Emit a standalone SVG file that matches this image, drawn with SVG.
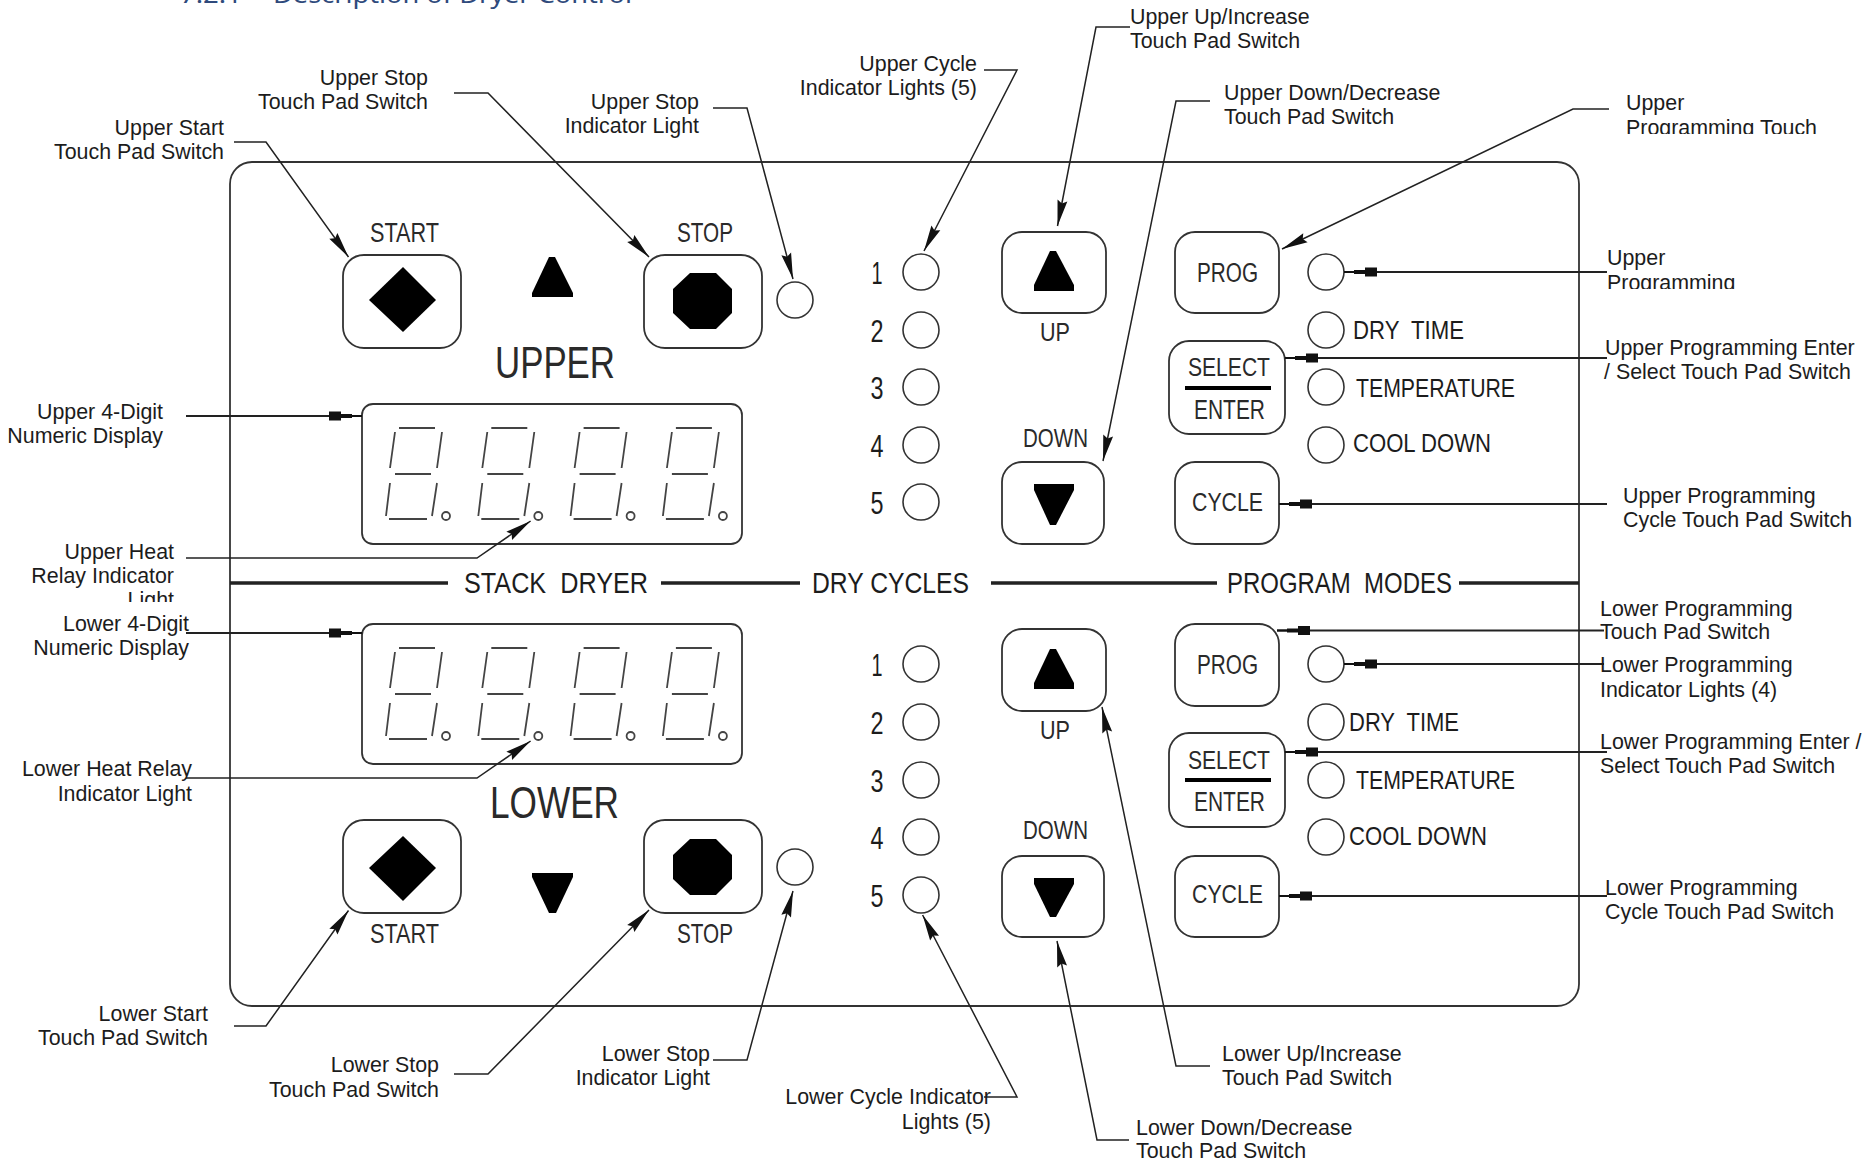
<svg xmlns="http://www.w3.org/2000/svg" xmlns:xlink="http://www.w3.org/1999/xlink" width="1868" height="1164" viewBox="0 0 1868 1164">
<style>
text{font-family:"Liberation Sans",Arial,sans-serif;fill:#1c1c1c}
.l{font-size:21.4px}
.r{text-anchor:end}
.c{fill:#2a2a2a}
.t{fill:#2f4a7c;font-family:"Noto Sans",sans-serif;font-size:24px}
.o{fill:none;stroke:#333;stroke-width:1.8}
.b{fill:none;stroke:#222;stroke-width:3.5}
.k{fill:#000;stroke:none}
.s{fill:none;stroke:#444;stroke-width:1.8}
.w{fill:none;stroke:#333;stroke-width:1.6}
.a{marker-end:url(#head)}
.h{marker-end:url(#block);stroke-width:1.8}
</style>
<defs>
<marker id="head" markerUnits="userSpaceOnUse" markerWidth="30" markerHeight="14" refX="28" refY="7" orient="auto"><path d="M28,7 L2,2 L5,7 L2,12 Z" fill="#111"/></marker>
<marker id="block" markerUnits="userSpaceOnUse" markerWidth="36" markerHeight="12" refX="35" refY="6" orient="auto"><path d="M35,5 H25 V4 H14 V1.5 H2 V10.5 H14 V8 H25 V7 H35 Z" fill="#111"/></marker>
<clipPath id="clipUP"><rect x="1600" y="90" width="268" height="44"/></clipPath>
<clipPath id="clipUL"><rect x="1600" y="245" width="268" height="44"/></clipPath>
<clipPath id="clipHR"><rect x="0" y="540" width="190" height="62"/></clipPath>
<g id="digit">
<path class="s" d="M399,428H435M395,432L390,468M442,432L437,468M395,474H431M390,483L386,516M437,483L432,516M389,519H427"/>
<circle class="s" cx="446" cy="516" r="4"/>
</g>
<g id="display">
<rect class="o" x="362" y="404" width="380" height="140" rx="11"/>
<use href="#digit"/><use href="#digit" x="92.3"/><use href="#digit" x="184.6"/><use href="#digit" x="276.9"/>
</g>
<g id="sq"><rect class="o" x="0" y="0" width="118" height="93" rx="21"/></g>
<circle id="lamp" class="w" r="18"/>
</defs>
<rect width="1868" height="1164" fill="#fff"/>

<g id="title">
<text class="t" x="180" y="3" textLength="62" lengthAdjust="spacingAndGlyphs">7.2.1</text>
<text class="t" x="273" y="3" textLength="359" lengthAdjust="spacingAndGlyphs">Description of Dryer Control</text>
</g>

<g id="panel">
<rect class="o" x="230" y="162" width="1349" height="844" rx="22" stroke-width="2.2"/>
<path class="b" d="M230,583H448M661,583H800M991,583H1217M1459,583H1579"/>
<g class="c" font-size="29">
<text x="464" y="593" textLength="184" lengthAdjust="spacingAndGlyphs" xml:space="preserve">STACK  DRYER</text>
<text x="812" y="593" textLength="157" lengthAdjust="spacingAndGlyphs">DRY CYCLES</text>
<text x="1227" y="593" textLength="225" lengthAdjust="spacingAndGlyphs" xml:space="preserve">PROGRAM  MODES</text>
</g>
</g>

<g id="upper-start"><use href="#sq" x="343" y="255"/><path class="k" d="M403,267L436,300L403,332L369,300Z"/><text class="c" x="370" y="242" font-size="28" textLength="69" lengthAdjust="spacingAndGlyphs">START</text></g>
<g id="upper-stop"><use href="#sq" x="644" y="255"/><path class="k" d="M690,273H716L732,289V313L716,329H690L673,313V289Z"/><text class="c" x="677" y="242" font-size="28" textLength="56" lengthAdjust="spacingAndGlyphs">STOP</text></g>
<g id="upper-mark"><path class="k" d="M549,257H555L573,293V297H532V293Z"/><text class="c" x="495" y="378" font-size="44" textLength="120" lengthAdjust="spacingAndGlyphs">UPPER</text></g>
<use id="upper-stop-light" href="#lamp" x="795" y="300"/>
<use id="upper-display" href="#display"/>

<g id="lower-start"><use href="#sq" x="343" y="820"/><path class="k" d="M403,836L436,868L403,901L369,868Z"/><text class="c" x="370" y="943" font-size="28" textLength="69" lengthAdjust="spacingAndGlyphs">START</text></g>
<g id="lower-stop"><use href="#sq" x="644" y="820"/><path class="k" d="M690,839H716L732,855V879L716,895H690L673,879V855Z"/><text class="c" x="677" y="943" font-size="28" textLength="56" lengthAdjust="spacingAndGlyphs">STOP</text></g>
<g id="lower-mark"><path class="k" d="M532,873H573V877L556,913H549L532,877Z"/><text class="c" x="490" y="818" font-size="44" textLength="129" lengthAdjust="spacingAndGlyphs">LOWER</text></g>
<use id="lower-stop-light" href="#lamp" x="795" y="867"/>
<use id="lower-display" href="#display" y="220"/>

<g id="upper-cycle-lights" class="c" font-size="31" text-anchor="middle">
<use href="#lamp" x="921" y="272"/><use href="#lamp" x="921" y="330"/><use href="#lamp" x="921" y="387"/><use href="#lamp" x="921" y="445"/><use href="#lamp" x="921" y="502"/>
<text x="877" y="284" textLength="11" lengthAdjust="spacingAndGlyphs">1</text><text x="877" y="342" textLength="13" lengthAdjust="spacingAndGlyphs">2</text><text x="877" y="399" textLength="13" lengthAdjust="spacingAndGlyphs">3</text><text x="877" y="457" textLength="13" lengthAdjust="spacingAndGlyphs">4</text><text x="877" y="514" textLength="13" lengthAdjust="spacingAndGlyphs">5</text>
</g>
<g id="lower-cycle-lights" class="c" font-size="31" text-anchor="middle">
<use href="#lamp" x="921" y="664"/><use href="#lamp" x="921" y="722"/><use href="#lamp" x="921" y="780"/><use href="#lamp" x="921" y="837"/><use href="#lamp" x="921" y="895"/>
<text x="877" y="676" textLength="11" lengthAdjust="spacingAndGlyphs">1</text><text x="877" y="734" textLength="13" lengthAdjust="spacingAndGlyphs">2</text><text x="877" y="792" textLength="13" lengthAdjust="spacingAndGlyphs">3</text><text x="877" y="849" textLength="13" lengthAdjust="spacingAndGlyphs">4</text><text x="877" y="907" textLength="13" lengthAdjust="spacingAndGlyphs">5</text>
</g>

<g id="upper-up"><rect class="o" x="1002" y="232" width="104" height="81" rx="20"/><path class="k" d="M1050,251H1056L1074,285V291H1034V285Z"/><text class="c" x="1040" y="341" font-size="25" textLength="30" lengthAdjust="spacingAndGlyphs">UP</text></g>
<g id="upper-down"><rect class="o" x="1002" y="462" width="102" height="82" rx="20"/><path class="k" d="M1034,484H1074V490L1056,525H1050L1034,490Z"/><text class="c" x="1023" y="447" font-size="26" textLength="65" lengthAdjust="spacingAndGlyphs">DOWN</text></g>
<g id="lower-up"><rect class="o" x="1002" y="629" width="104" height="82" rx="20"/><path class="k" d="M1050,649H1056L1074,683V689H1034V683Z"/><text class="c" x="1040" y="739" font-size="25" textLength="30" lengthAdjust="spacingAndGlyphs">UP</text></g>
<g id="lower-down"><rect class="o" x="1002" y="856" width="102" height="81" rx="20"/><path class="k" d="M1034,878H1074V884L1056,917H1050L1034,884Z"/><text class="c" x="1023" y="839" font-size="26" textLength="65" lengthAdjust="spacingAndGlyphs">DOWN</text></g>

<g id="upper-prog"><rect class="o" x="1175" y="232" width="104" height="81" rx="20"/><text class="c" x="1197" y="282" font-size="27" textLength="61" lengthAdjust="spacingAndGlyphs">PROG</text></g>
<g id="upper-select"><rect class="o" x="1169" y="341" width="116" height="93" rx="20"/><rect class="k" x="1185" y="386" width="86" height="4"/><text class="c" x="1188" y="376" font-size="26" textLength="82" lengthAdjust="spacingAndGlyphs">SELECT</text><text class="c" x="1194" y="419" font-size="27" textLength="71" lengthAdjust="spacingAndGlyphs">ENTER</text></g>
<g id="upper-cycle"><rect class="o" x="1175" y="462" width="104" height="82" rx="20"/><text class="c" x="1192" y="511" font-size="26" textLength="71" lengthAdjust="spacingAndGlyphs">CYCLE</text></g>
<g id="upper-modes" class="c" font-size="26">
<use href="#lamp" x="1326" y="272"/><use href="#lamp" x="1326" y="330"/><use href="#lamp" x="1326" y="387"/><use href="#lamp" x="1326" y="445"/>
<text x="1353" y="339" textLength="111" lengthAdjust="spacingAndGlyphs" xml:space="preserve">DRY  TIME</text>
<text x="1356" y="397" textLength="159" lengthAdjust="spacingAndGlyphs">TEMPERATURE</text>
<text x="1353" y="452" textLength="138" lengthAdjust="spacingAndGlyphs">COOL DOWN</text>
</g>

<g id="lower-prog"><rect class="o" x="1175" y="624" width="104" height="82" rx="20"/><text class="c" x="1197" y="674" font-size="27" textLength="61" lengthAdjust="spacingAndGlyphs">PROG</text></g>
<g id="lower-select"><rect class="o" x="1169" y="733" width="116" height="94" rx="20"/><rect class="k" x="1185" y="778" width="86" height="4"/><text class="c" x="1188" y="769" font-size="26" textLength="82" lengthAdjust="spacingAndGlyphs">SELECT</text><text class="c" x="1194" y="811" font-size="27" textLength="71" lengthAdjust="spacingAndGlyphs">ENTER</text></g>
<g id="lower-cycle"><rect class="o" x="1175" y="856" width="104" height="81" rx="20"/><text class="c" x="1192" y="903" font-size="26" textLength="71" lengthAdjust="spacingAndGlyphs">CYCLE</text></g>
<g id="lower-modes" class="c" font-size="26">
<use href="#lamp" x="1326" y="664"/><use href="#lamp" x="1326" y="722"/><use href="#lamp" x="1326" y="780"/><use href="#lamp" x="1326" y="837"/>
<text x="1349" y="731" textLength="110" lengthAdjust="spacingAndGlyphs" xml:space="preserve">DRY  TIME</text>
<text x="1356" y="789" textLength="159" lengthAdjust="spacingAndGlyphs">TEMPERATURE</text>
<text x="1349" y="845" textLength="138" lengthAdjust="spacingAndGlyphs">COOL DOWN</text>
</g>

<g id="connectors" fill="none" stroke="#222" stroke-width="1.5">
<path class="a" d="M234,142H266L348.5,257"/>
<path class="a" d="M454,93H488L649,257"/>
<path class="a" d="M713,108H747L793,279"/>
<path class="a" d="M984,70H1017L924,251"/>
<path class="a" d="M1130,27H1096L1057.5,226"/>
<path class="a" d="M1210,101H1176L1103,461"/>
<path class="a" d="M1609,109H1573L1282,249"/>
<path class="a" d="M186,558H477L530.6,521"/>
<path class="a" d="M186,778H477L530.6,741"/>
<path class="a" d="M234,1026H266L348.5,910.5"/>
<path class="a" d="M454,1074H488L649,910"/>
<path class="a" d="M713,1060H747L793,891"/>
<path class="a" d="M984,1097H1017L922.6,915"/>
<path class="a" d="M1129,1140H1097L1057,941"/>
<path class="a" d="M1210,1066H1176L1102,707"/>
<path class="h" d="M186,416H362"/>
<path class="h" d="M186,633H362"/>
<path class="h" d="M1607,272H1344"/>
<path class="h" d="M1607,358H1285"/>
<path class="h" d="M1607,504H1279"/>
<path class="h" d="M1604,630.5H1277"/>
<path class="h" d="M1604,664H1344"/>
<path class="h" d="M1607,752H1285"/>
<path class="h" d="M1607,896H1279"/>
</g>

<g id="labels" class="l">
<g class="r">
<text x="428" y="85">Upper Stop</text><text x="428" y="109">Touch Pad Switch</text>
<text x="224" y="135">Upper Start</text><text x="224" y="159">Touch Pad Switch</text>
<text x="699" y="109">Upper Stop</text><text x="699" y="133">Indicator Light</text>
<text x="977" y="71">Upper Cycle</text><text x="977" y="95">Indicator Lights (5)</text>
<text x="163" y="419">Upper 4-Digit</text><text x="163" y="443">Numeric Display</text>
<text x="174" y="559">Upper Heat</text><text x="174" y="583">Relay Indicator</text><text x="174" y="607" clip-path="url(#clipHR)">Light</text>
<text x="189" y="631">Lower 4-Digit</text><text x="189" y="655">Numeric Display</text>
<text x="192" y="776">Lower Heat Relay</text><text x="192" y="801">Indicator Light</text>
<text x="208" y="1021">Lower Start</text><text x="208" y="1045">Touch Pad Switch</text>
<text x="439" y="1072">Lower Stop</text><text x="439" y="1097">Touch Pad Switch</text>
<text x="710" y="1061">Lower Stop</text><text x="710" y="1085">Indicator Light</text>
<text x="991" y="1104">Lower Cycle Indicator</text><text x="991" y="1129">Lights (5)</text>
</g>
<text x="1130" y="24">Upper Up/Increase</text><text x="1130" y="48">Touch Pad Switch</text>
<text x="1224" y="100">Upper Down/Decrease</text><text x="1224" y="124">Touch Pad Switch</text>
<g clip-path="url(#clipUP)"><text x="1626" y="110">Upper</text><text x="1626" y="135">Programming Touch</text></g>
<g clip-path="url(#clipUL)"><text x="1607" y="265">Upper</text><text x="1607" y="290">Programming</text></g>
<text x="1605" y="355">Upper Programming Enter</text><text x="1604" y="379">/ Select Touch Pad Switch</text>
<text x="1623" y="503">Upper Programming</text><text x="1623" y="527">Cycle Touch Pad Switch</text>
<text x="1600" y="616">Lower Programming</text><text x="1600" y="639">Touch Pad Switch</text>
<text x="1600" y="672">Lower Programming</text><text x="1600" y="697">Indicator Lights (4)</text>
<text x="1600" y="749">Lower Programming Enter /</text><text x="1600" y="773">Select Touch Pad Switch</text>
<text x="1605" y="895">Lower Programming</text><text x="1605" y="919">Cycle Touch Pad Switch</text>
<text x="1222" y="1061">Lower Up/Increase</text><text x="1222" y="1085">Touch Pad Switch</text>
<text x="1136" y="1135">Lower Down/Decrease</text><text x="1136" y="1158">Touch Pad Switch</text>
</g>
</svg>
